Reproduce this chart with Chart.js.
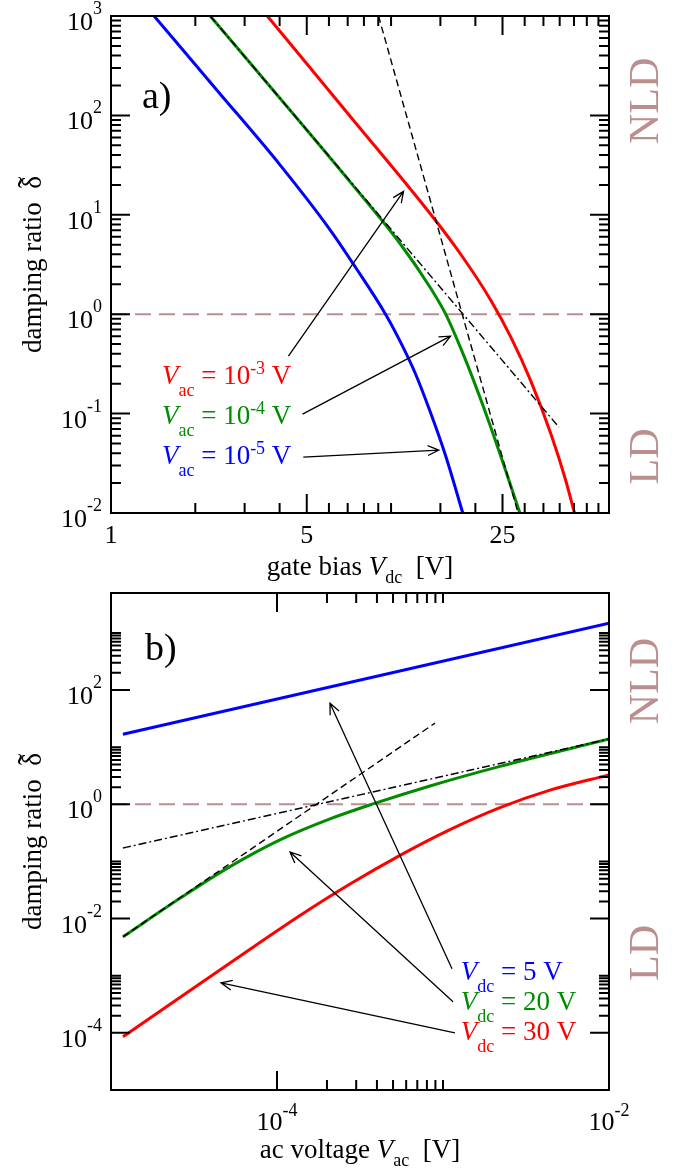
<!DOCTYPE html>
<html>
<head>
<meta charset="utf-8">
<script src="https://cdn.jsdelivr.net/npm/chart.js@4/dist/chart.umd.min.js"></script>
<style>
  body { margin: 0; background: #fff; }
  canvas { display: block; }
</style>
</head>
<body>
<canvas id="chartA" width="693" height="585" style="width:693px;height:585px"></canvas>
<canvas id="chartB" width="693" height="589" style="width:693px;height:589px"></canvas>
<script>
// ---- panel a) damping ratio vs gate bias Vdc ----
let vdcBlue  = [1.425, 2.394, 4.025, 6.074, 7.464, 9.557, 10.81, 12.24, 13.85, 15.67, 18.03];
let dampBlue = [1000, 178.4, 31.45, 6.99, 2.968, 1.0, 0.523, 0.249, 0.1012, 0.0374, 0.01];
let vdcGreen  = [2.261, 4.025, 7.164, 10.81, 13.85, 15.67, 17.73, 20.06, 22.70, 25.69, 28.83];
let dampGreen = [1000, 147.2, 21.21, 5.053, 1.825, 1.0, 0.455, 0.189, 0.0731, 0.0264, 0.01];
let vdcRed  = [3.615, 7.164, 13.85, 17.73, 22.70, 26.77, 31.56, 37.22, 42.10, 45.16];
let dampRed = [1000, 97.0, 10.12, 4.01, 1.383, 0.587, 0.212, 0.0622, 0.0210, 0.01];
// asymptotes (straight in log-log)
let vdcSteep  = [9.02, 28.4];
let dampSteep = [1000, 0.01];
let vdcSlope  = [2.26, 39.75];
let dampSlope = [1000, 0.073];
let gateRange = [1, 60];
let gateMajor = [1, 5, 25];
let gateMinor = [2, 3, 4, 6, 7, 8, 9, 10, 15, 20, 30, 35, 40, 45, 50, 55];
let dampDecadesA = [0.01, 0.1, 1, 10, 100, 1000];

// ---- panel b) damping ratio vs ac voltage Vac ----
let vacBlue  = [1.18e-5, 1e-2];
let dampBlueB = [16.9, 1480];
let vacGreen  = [1.18e-5, 2.603e-5, 5.21e-5, 1.042e-4, 2.086e-4, 3.787e-4, 8.35e-4, 2.205e-3, 1e-2];
let dampGreenB = [0.00479, 0.02264, 0.0811, 0.2385, 0.5555, 1.016, 2.097, 4.62, 13.9];
let vacRed  = [1.181e-5, 6.88e-5, 1.376e-4, 2.753e-4, 5.51e-4, 1.102e-3, 2.205e-3, 4.411e-3, 1e-2];
let dampRedB = [8.53e-5, 2.906e-3, 0.01133, 0.04026, 0.1281, 0.3611, 0.8757, 1.771, 3.28];
let vacSteep  = [1.18e-5, 8.95e-4];
let dampSteepB = [0.0048, 26.4];
let vacSlope  = [1.18e-5, 1e-2];
let dampSlopeB = [0.172, 13.9];
let acRange = [1e-5, 1e-2];
let dampRangeB = [1e-5, 5000];
let acMajor = [1e-4, 1e-2];
let dampMajorB = [1e-4, 1e-2, 1, 100];

const SERIF = '"Liberation Serif", "Times New Roman", serif';
const ROSY = '#bc8f8f';
const RED = '#ff0000', GREEN = '#008b00', BLUE = '#0000ff';

// minor ticks at 2..n times each major tick
function minorOf(majors, upto) {
    let out = [];
    majors.forEach(m => { for (let k = 2; k <= upto; k++) out.push(m * k); });
    return out;
}

function series(xs, ys, color, width, dash) {
    return {
        data: xs.map((v, i) => ({x: v, y: ys[i]})),
        showLine: true,
        borderColor: color,
        borderWidth: width,
        borderDash: dash || [],
        pointRadius: 0,
        fill: false,
        cubicInterpolationMode: 'monotone'
    };
}

// text with italic / sub / sup pieces, parts = [[text, style], ...]
function richText(ctx, parts, x, y, size, opt) {
    opt = opt || {};
    let small = Math.round(size * 0.68);
    let fontOf = s => s === 'i' ? `italic ${size}px ${SERIF}` :
        (s === 'sub' || s === 'sup') ? `${small}px ${SERIF}` : `${size}px ${SERIF}`;
    let w = 0;
    parts.forEach(p => { ctx.font = fontOf(p[1]); w += ctx.measureText(p[0]).width; });
    let cx = opt.align === 'right' ? x - w : opt.align === 'center' ? x - w / 2 : x;
    ctx.textAlign = 'left';
    ctx.textBaseline = 'alphabetic';
    parts.forEach(p => {
        ctx.font = fontOf(p[1]);
        let dy = p[1] === 'sub' ? (opt.sub || size * 0.4) : p[1] === 'sup' ? -(opt.sup || size * 0.38) : 0;
        let tw = ctx.measureText(p[0]).width;
        ctx.fillText(p[0], cx, y + dy);
        if (p[1] === 'tilde') {
            // wide tilde set above the letter
            ctx.font = `${Math.round(size * 1.25)}px ${SERIF}`;
            let ww = ctx.measureText('\u02DC').width;
            ctx.fillText('\u02DC', cx + (tw - ww) / 2, y);
        }
        cx += tw;
    });
}

function rotatedText(ctx, parts, x, y, size, color) {
    ctx.save();
    ctx.translate(x, y);
    ctx.rotate(-Math.PI / 2);
    ctx.fillStyle = color;
    richText(ctx, parts, 0, 0, size, {align: 'center'});
    ctx.restore();
}

function arrow(ctx, x1, y1, x2, y2) {
    let ang = Math.atan2(y2 - y1, x2 - x1), L = 12, w = 0.42;
    ctx.beginPath();
    ctx.moveTo(x1, y1);
    ctx.lineTo(x2, y2);
    ctx.moveTo(x2 - L * Math.cos(ang - w), y2 - L * Math.sin(ang - w));
    ctx.lineTo(x2, y2);
    ctx.lineTo(x2 - L * Math.cos(ang + w), y2 - L * Math.sin(ang + w));
    ctx.stroke();
}

function powLabel(v) {
    return [['10', ''], [String(Math.round(Math.log10(v))), 'sup']];
}

// draws the box, inward ticks on all sides, labels, arrows and notes
function makeFrame(cfg) {
    return {
        id: 'frame',
        afterDatasetsDraw(chart) {
            let ctx = chart.ctx, a = chart.chartArea;
            let x = chart.scales.x, y = chart.scales.y;
            ctx.save();
            ctx.strokeStyle = '#000';
            ctx.lineWidth = 2;
            ctx.lineCap = 'butt';

            let xt = (vals, len) => vals.forEach(v => {
                let px = x.getPixelForValue(v);
                if (px < a.left - 0.5 || px > a.right + 0.5) return;
                ctx.beginPath();
                ctx.moveTo(px, a.bottom); ctx.lineTo(px, a.bottom - len);
                ctx.moveTo(px, a.top); ctx.lineTo(px, a.top + len);
                ctx.stroke();
            });
            let yt = (vals, len) => vals.forEach(v => {
                let py = y.getPixelForValue(v);
                if (py < a.top - 0.5 || py > a.bottom + 0.5) return;
                ctx.beginPath();
                ctx.moveTo(a.left, py); ctx.lineTo(a.left + len, py);
                ctx.moveTo(a.right, py); ctx.lineTo(a.right - len, py);
                ctx.stroke();
            });
            xt(cfg.xMajor, 19); xt(cfg.xMinor, 10);
            yt(cfg.yMajor, 19); yt(cfg.yMinor, 10);
            ctx.strokeRect(a.left, a.top, a.right - a.left, a.bottom - a.top);

            // tick labels
            ctx.fillStyle = '#000';
            cfg.xLabels.forEach(l => {
                richText(ctx, l[1], x.getPixelForValue(l[0]), a.bottom + cfg.xLabelGap, 26, {align: 'center', sup: 14});
            });
            cfg.yMajor.forEach(v => {
                let py = y.getPixelForValue(v);
                if (py < a.top - 0.5 || py > a.bottom + 0.5) return;
                richText(ctx, powLabel(v), a.left - 9, py + 14, 26, {align: 'right', sup: 16});
            });

            // axis titles
            richText(ctx, cfg.xTitle, (a.left + a.right) / 2, a.bottom + cfg.titleGap, 27, {align: 'center', sub: 8});
            ctx.save();
            ctx.translate(41, (a.top + a.bottom) / 2);
            ctx.rotate(-Math.PI / 2);
            richText(ctx, [['damping ratio  ', ''], ['\u03B4', 'tilde']], 0, 0, 27, {align: 'center'});
            ctx.restore();

            // NLD / LD regions
            rotatedText(ctx, [['NLD', '']], 658, y.getPixelForValue(cfg.nldAt), 42, ROSY);
            rotatedText(ctx, [['LD', '']], 658, y.getPixelForValue(cfg.ldAt), 42, ROSY);

            // panel tag
            ctx.fillStyle = '#000';
            richText(ctx, [[cfg.tag, '']], cfg.tagPos[0], cfg.tagPos[1], 38);

            // arrows
            ctx.lineWidth = 1.3;
            cfg.arrows.forEach(r => {
                arrow(ctx, x.getPixelForValue(r[0]), y.getPixelForValue(r[1]),
                    x.getPixelForValue(r[2]), y.getPixelForValue(r[3]));
            });

            // curve notes
            cfg.notes.forEach(n => {
                ctx.fillStyle = n.color;
                richText(ctx, n.parts, x.getPixelForValue(n.at[0]), y.getPixelForValue(n.at[1]), 27, {sub: 12, sup: 10});
            });
            ctx.restore();
        }
    };
}

function baseOptions(pad, xr, yr) {
    return {
        responsive: false,
        animation: false,
        events: [],
        layout: {padding: pad},
        plugins: {legend: {display: false}, tooltip: {enabled: false}},
        scales: {
            x: {type: 'logarithmic', min: xr[0], max: xr[1], display: false},
            y: {type: 'logarithmic', min: yr[0], max: yr[1], display: false}
        }
    };
}

// panel a
let chartA = new Chart(document.getElementById('chartA').getContext('2d'), {
    type: 'scatter',
    data: {
        datasets: [
            series(vdcSlope, dampSlope, '#000', 1.4, [8, 3, 2, 3]),
            series(vdcSteep, dampSteep, '#000', 1.4, [7, 4]),
            series(vdcBlue, dampBlue, BLUE, 3),
            series(vdcGreen, dampGreen, GREEN, 3),
            series(vdcRed, dampRed, RED, 3),
            series(gateRange, [1, 1], ROSY, 2, [16, 8])
        ]
    },
    options: baseOptions({left: 111, right: 84, top: 16, bottom: 72}, gateRange, [0.01, 1000]),
    plugins: [makeFrame({
        xMajor: gateMajor, xMinor: gateMinor,
        yMajor: dampDecadesA, yMinor: minorOf(dampDecadesA, 9),
        xLabels: gateMajor.map(v => [v, [[String(v), '']]]),
        xLabelGap: 30, titleGap: 62,
        xTitle: [['gate bias ', ''], ['V', 'i'], ['dc', 'sub'], ['  [V]', '']],
        nldAt: 140, ldAt: 0.037,
        tag: 'a)', tagPos: [142, 108],
        arrows: [
            [4.30, 0.378, 11.08, 17.2],
            [4.83, 0.0989, 16.3, 0.601],
            [4.86, 0.0365, 14.8, 0.043]
        ],
        notes: [
            {at: [1.52, 0.198], color: RED, parts: [['V', 'i'], ['ac', 'sub'], [' = 10', ''], ['-3', 'sup'], [' V', '']]},
            {at: [1.52, 0.0784], color: GREEN, parts: [['V', 'i'], ['ac', 'sub'], [' = 10', ''], ['-4', 'sup'], [' V', '']]},
            {at: [1.52, 0.0311], color: BLUE, parts: [['V', 'i'], ['ac', 'sub'], [' = 10', ''], ['-5', 'sup'], [' V', '']]}
        ]
    })]
});

// panel b
let chartB = new Chart(document.getElementById('chartB').getContext('2d'), {
    type: 'scatter',
    data: {
        datasets: [
            series(vacSlope, dampSlopeB, '#000', 1.4, [8, 3, 2, 3]),
            series(vacSteep, dampSteepB, '#000', 1.4, [7, 4]),
            series(vacBlue, dampBlueB, BLUE, 3),
            series(vacGreen, dampGreenB, GREEN, 3),
            series(vacRed, dampRedB, RED, 3),
            series(acRange, [1, 1], ROSY, 2, [16, 8])
        ]
    },
    options: baseOptions({left: 111, right: 84, top: 8, bottom: 84}, acRange, dampRangeB),
    plugins: [makeFrame({
        xMajor: acMajor, xMinor: minorOf([1e-4], 10),
        yMajor: dampMajorB, yMinor: minorOf(dampMajorB, 10),
        xLabels: acMajor.map(v => [v, powLabel(v)]),
        xLabelGap: 40, titleGap: 68,
        xTitle: [['ac voltage ', ''], ['V', 'i'], ['ac', 'sub'], ['  [V]', '']],
        nldAt: 143, ldAt: 0.0025,
        tag: 'b)', tagPos: [145, 75],
        arrows: [
            [1.133e-3, 1.32e-3, 2.086e-4, 59.0],
            [1.149e-3, 3.5e-4, 1.198e-4, 0.1466],
            [1.18e-3, 1.0e-4, 4.6e-5, 7.5e-4]
        ],
        notes: [
            {at: [1.28e-3, 8.48e-4], color: BLUE, parts: [['V', 'i'], ['dc', 'sub'], [' = 5 V', '']]},
            {at: [1.28e-3, 2.535e-4], color: GREEN, parts: [['V', 'i'], ['dc', 'sub'], [' = 20 V', '']]},
            {at: [1.28e-3, 7.58e-5], color: RED, parts: [['V', 'i'], ['dc', 'sub'], [' = 30 V', '']]}
        ]
    })]
});
</script>
</body>
</html>
